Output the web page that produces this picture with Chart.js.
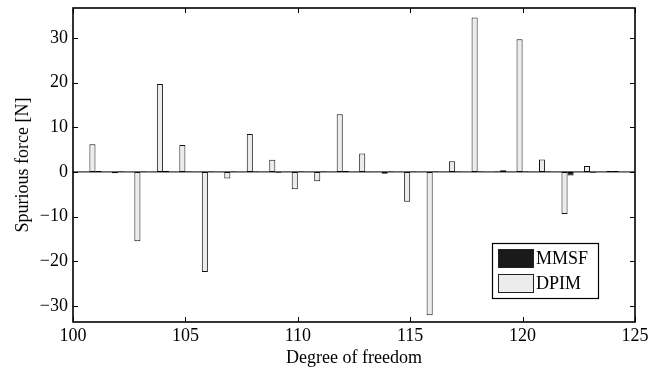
<!DOCTYPE html>
<html>
<head>
<meta charset="utf-8">
<script src="https://cdn.jsdelivr.net/npm/chart.js@4/dist/chart.umd.min.js"></script>
<style>
  html,body{margin:0;padding:0;background:#fff;}
  #wrap{width:649px;height:373px;position:relative;}
</style>
</head>
<body>
<div id="wrap"><canvas id="c"></canvas></div>
<script>
// ---------------- DATA ----------------
const dof  = [101,102,103,104,105,106,107,108,109,110,111,112,113,114,115,116,117,118,119,120,121,122,123,124];
const dpim = [6.2,-0.3,-15.5,19.7,6.0,-22.4,-1.5,8.5,2.7,-3.9,-2.1,12.9,4.1,-0.4,-6.7,-32.1,2.4,34.6,0.1,29.7,2.8,-9.4,1.3,0.2];
const mmsf = [0.2,0.1,0.1,0.2,0.1,0.1,0.1,0.1,-0.2,0.1,0.1,0.2,-0.1,0.1,0.1,0.1,0.1,0.1,0.4,0.1,0.1,-0.8,-0.2,0.2];
const yTicks = [-30,-20,-10,0,10,20,30];
const xTicks = [100,105,110,115,120,125];

const FONT = "'Liberation Serif','Times New Roman',serif";

// ---------------- FRAME, INWARD TICKS, LEGEND ----------------
const framePlugin = {
  id:"frame",
  afterDatasetsDraw(chart){
    const {ctx,chartArea:a,scales} = chart;
    ctx.save();
    ctx.strokeStyle="#000";
    // zero baseline
    const y0 = scales.y.getPixelForValue(0);
    ctx.lineWidth=1;
    ctx.beginPath();ctx.moveTo(a.left,y0);ctx.lineTo(a.right,y0);ctx.stroke();
    // inward ticks
    const L=5;
    ctx.beginPath();
    xTicks.forEach(v=>{
      const x=Math.round(scales.x.getPixelForValue(v))+0.5;
      ctx.moveTo(x,a.bottom);ctx.lineTo(x,a.bottom-L);
      ctx.moveTo(x,a.top);ctx.lineTo(x,a.top+L);
    });
    yTicks.forEach(v=>{
      const y=Math.round(scales.y.getPixelForValue(v))+0.5;
      ctx.moveTo(a.left,y);ctx.lineTo(a.left+L,y);
      ctx.moveTo(a.right,y);ctx.lineTo(a.right-L,y);
    });
    ctx.stroke();
    // box
    ctx.lineWidth=1.6;
    ctx.strokeRect(a.left,a.top,a.right-a.left,a.bottom-a.top);

    // legend box (lower right)
    const bx=492, by=243, bw=106, bh=55;
    ctx.fillStyle="#fff";
    ctx.fillRect(bx,by,bw,bh);
    ctx.lineWidth=1.2;
    ctx.strokeRect(bx+0.5,by+0.5,bw,bh);
    const items=[chart.data.datasets[1],chart.data.datasets[0]];
    ctx.font="18px "+FONT;
    ctx.textBaseline="middle";
    items.forEach((ds,i)=>{
      const sy=by+6+i*25;
      ctx.fillStyle=ds.backgroundColor;
      ctx.fillRect(bx+6,sy,36,19);
      ctx.lineWidth=1;
      ctx.strokeStyle="#222";
      ctx.strokeRect(bx+6.5,sy+0.5,35,18);
      ctx.fillStyle="#000";
      ctx.fillText(ds.label,bx+44,sy+10);
    });
    ctx.restore();
  }
};

// ---------------- CHART ----------------
new Chart(document.getElementById("c"),{
  type:"bar",
  data:{
    datasets:[
      {label:"DPIM",data:dof.map((d,i)=>({x:d,y:dpim[i]})),backgroundColor:"#ececec",borderColor:"#111",borderWidth:1,borderSkipped:false},
      {label:"MMSF",data:dof.map((d,i)=>({x:d,y:mmsf[i]})),backgroundColor:"#1a1a1a",borderColor:"#000",borderWidth:1,borderSkipped:false}
    ]
  },
  options:{
    responsive:true,
    maintainAspectRatio:false,
    animation:false,
    categoryPercentage:0.54,
    barPercentage:1.0,
    layout:{padding:{top:8,right:14,left:0,bottom:0}},
    plugins:{legend:{display:false},tooltip:{enabled:false}},
    scales:{
      x:{
        type:"linear",min:100,max:125,offset:false,
        grid:{display:false,offset:false,drawTicks:false,tickLength:0},
        border:{display:false},
        ticks:{stepSize:5,includeBounds:false,color:"#000",font:{family:FONT,size:18},padding:3,maxRotation:0},
        title:{display:true,text:"Degree of freedom",color:"#000",font:{family:FONT,size:18},padding:{top:0,bottom:4}},
        afterFit(s){s.height=51;s.paddingLeft=0;s.paddingRight=0;}
      },
      y:{
        min:-33.6,max:36.7,
        grid:{display:false,drawTicks:false,tickLength:0},
        border:{display:false},
        ticks:{stepSize:10,includeBounds:false,color:"#000",font:{family:FONT,size:18},padding:5,
          callback:v=>v<0?"\u2212"+Math.abs(v):String(v)},
        title:{display:true,text:"Spurious force [N]",color:"#000",font:{family:FONT,size:18},padding:{top:12,bottom:0}},
        afterFit(s){s.width=73;s.paddingTop=0;s.paddingBottom=0;}
      }
    }
  },
  plugins:[framePlugin]
});
</script>
</body>
</html>
